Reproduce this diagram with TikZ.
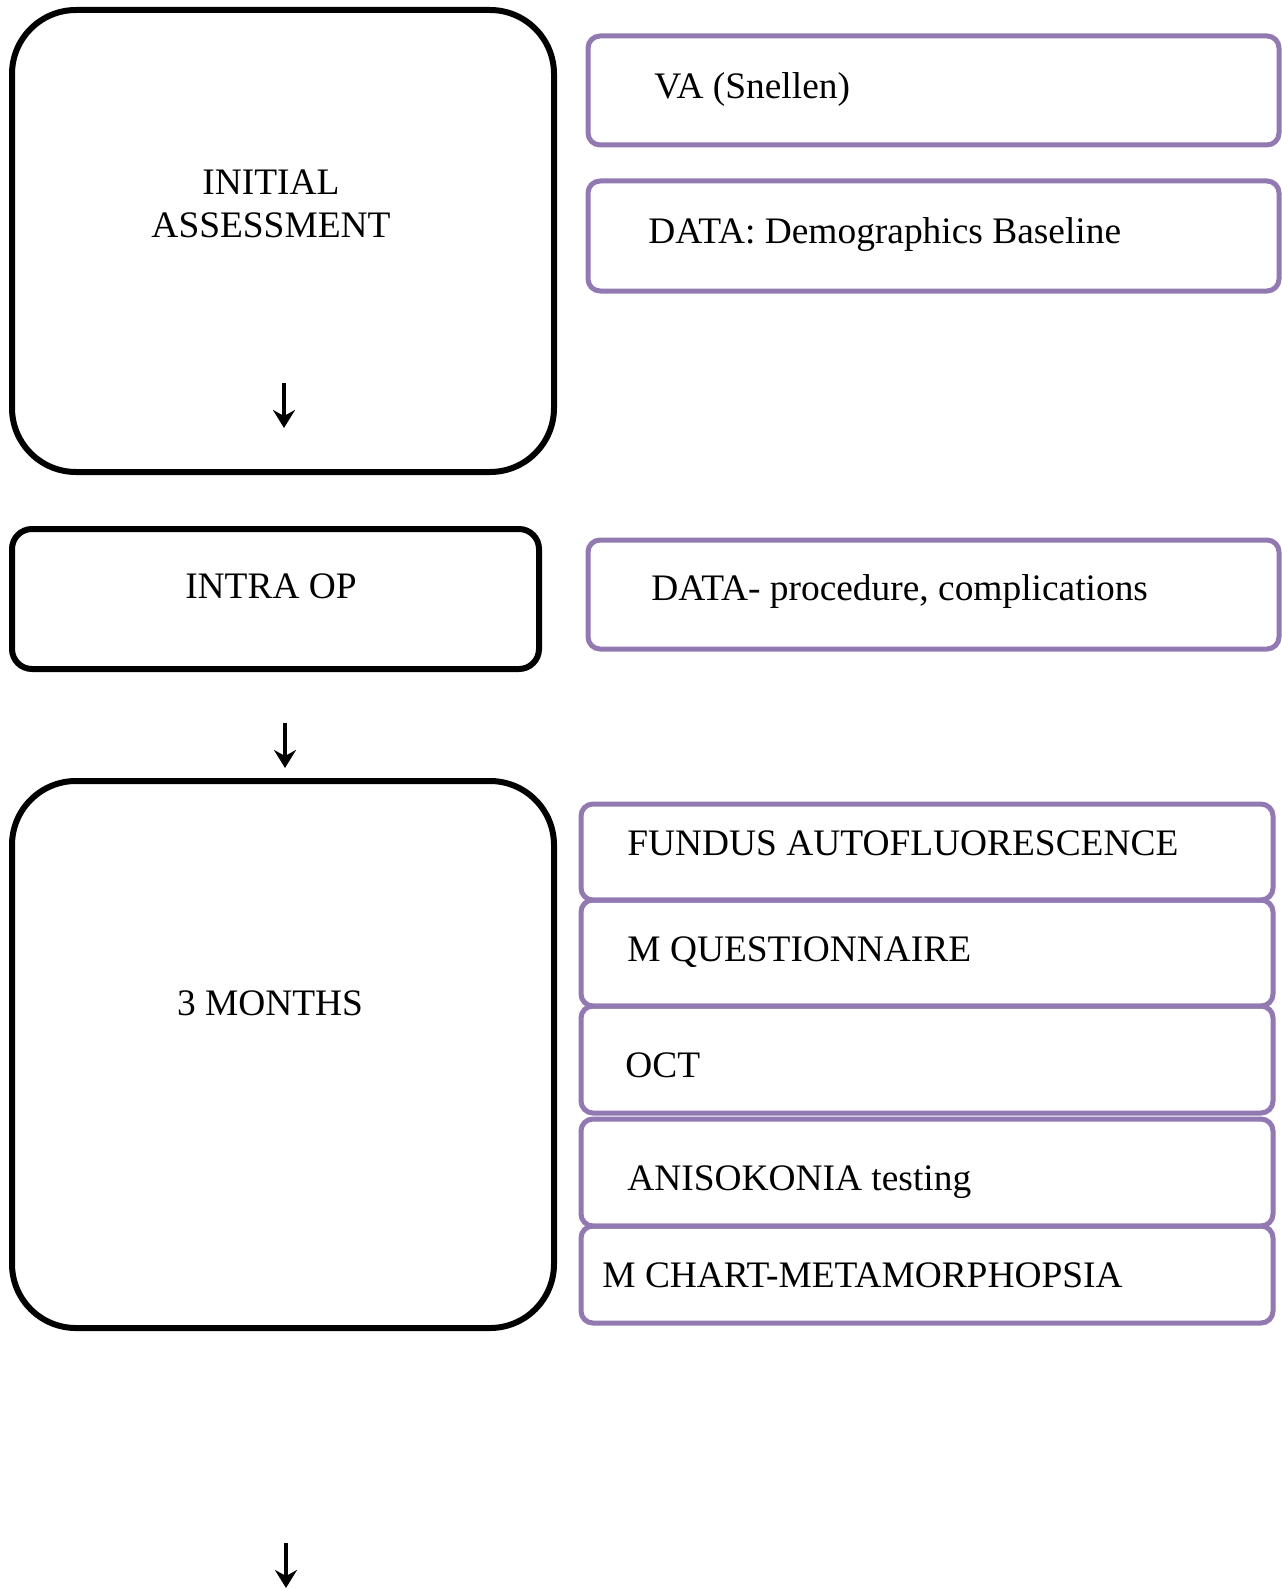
\documentclass[tikz,border=0pt]{standalone}
\usepackage{fontspec}
\setmainfont{Liberation Serif}
\usetikzlibrary{arrows.meta}
\definecolor{boxpurple}{RGB}{147,121,178}
\tikzset{
  blackbox/.style={draw=black, line width=3pt, rounded corners=#1},
  purplebox/.style={draw=boxpurple, line width=2.5pt, rounded corners=6pt},
  lbl/.style={font=\fontsize{18.7pt}{21.5pt}\selectfont, inner sep=0pt},
  downarrow/.style={line width=1.8pt, -{Stealth[length=9pt,width=11pt,inset=3pt]}}
}
\begin{document}
\begin{tikzpicture}[x=0.5pt,y=-0.5pt]
\useasboundingbox[fill=white] (0,0) rectangle (1281,1589);
% left column
\draw[blackbox=32pt] (12,10) rectangle (554,472);
\node[lbl, align=center] (initial) at (271,204) {INITIAL\\ASSESSMENT};
\coordinate (a1s) at (284,383);
\coordinate (a1e) at (284,428);
\draw[downarrow] (a1s) -- (a1e);

\draw[blackbox=10pt] (12,529) rectangle (539,669);
\node[lbl] (intra) at (271,586) {INTRA OP};

\coordinate (a2s) at (285,723);
\coordinate (a2e) at (285,768);
\draw[downarrow] (a2s) -- (a2e);

\draw[blackbox=32pt] (12,781) rectangle (554,1328);
\node[lbl] (three) at (270,1003) {3 MONTHS};

\coordinate (a3s) at (286,1543);
\coordinate (a3e) at (286,1588);
\draw[downarrow] (a3s) -- (a3e);

% right column
\draw[purplebox] (588,36) rectangle (1279,145);
\node[lbl, anchor=west] (va) at (654,90) {VA (Snellen)};

\draw[purplebox] (588,181) rectangle (1279,291);
\node[lbl, anchor=west] (demo) at (648,235) {DATA: Demographics Baseline};

\draw[purplebox] (588,540) rectangle (1279,649);
\node[lbl, anchor=west] (proc) at (651,592) {DATA- procedure, complications};

\draw[purplebox] (581,804) rectangle (1273,900);
\draw[purplebox] (581,900) rectangle (1273,1006);
\draw[purplebox] (581,1006) rectangle (1273,1113);
\draw[purplebox] (581,1119) rectangle (1273,1226);
\draw[purplebox] (581,1226) rectangle (1273,1323);
\node[lbl, anchor=west] (fundus) at (627,843) {FUNDUS AUTOFLUORESCENCE};
\node[lbl, anchor=west] (mq) at (627,952) {M QUESTIONNAIRE};
\node[lbl, anchor=west] (oct) at (625,1065) {OCT};
\node[lbl, anchor=west] (aniso) at (627,1182) {ANISOKONIA testing};
\node[lbl, anchor=west] (mchart) at (602,1275) {M CHART-METAMORPHOPSIA};
\end{tikzpicture}
\end{document}
